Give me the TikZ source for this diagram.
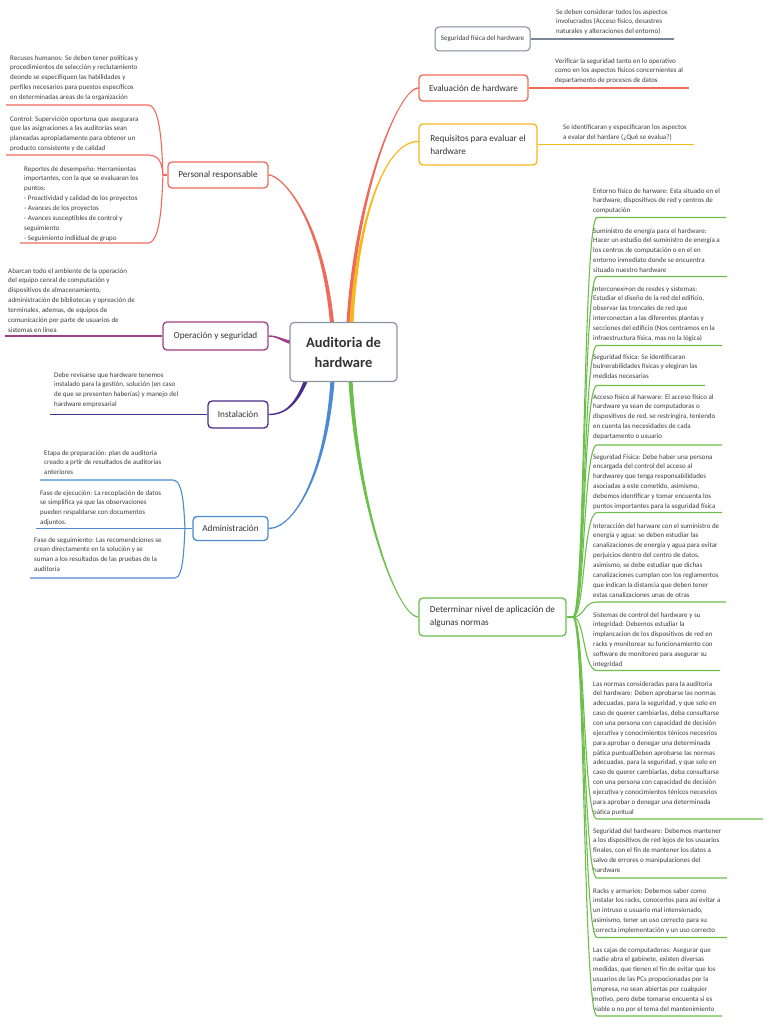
\documentclass[tikz,border=0pt]{standalone}
\usepackage{fontspec}
\setmainfont{Carlito}
\usetikzlibrary{calc,backgrounds}
\definecolor{cred}{HTML}{F06A5C}
\definecolor{corange}{HTML}{F6B81C}
\definecolor{cpurple}{HTML}{A04088}
\definecolor{cindigo}{HTML}{4A2C8C}
\definecolor{cblue}{HTML}{4C8BD3}
\definecolor{cgreen}{HTML}{6BBF4A}
\definecolor{cgray}{HTML}{7D8896}
\definecolor{cbox}{HTML}{8C96A0}
\definecolor{ltext}{HTML}{3C3C3C}
\definecolor{ttext}{HTML}{333333}
\newcommand\lfnt{\fontsize{7}{9.85}\selectfont}
\newcommand\tfnt{\fontsize{9.2}{13}\selectfont}
\newcommand\tconn[5]{%
 \fill[#5] ($(#1)!2.1pt!90:(#2)$) .. controls ($(#2)!1.6pt!-90:(#1)$) and ($(#3)!0.7pt!90:(#4)$) .. ($(#4)!0.7pt!-90:(#3)$) -- ($(#4)!0.7pt!90:(#3)$) .. controls ($(#3)!0.7pt!-90:(#4)$) and ($(#2)!1.6pt!90:(#1)$) .. ($(#1)!2.1pt!-90:(#2)$) -- cycle;}
\begin{document}
\begin{tikzpicture}[x=1pt,y=-1pt,
 leaf/.style={anchor=north west, inner sep=0pt, align=left, font=\lfnt, text=ltext, yshift=-2pt},
 topic/.style={draw, rounded corners=4pt, line width=1.3pt, fill=white, font=\tfnt, text=ttext, inner sep=0pt},
 uline/.style={line width=1.1pt}]
\useasboundingbox (0,0) rectangle (768,1024);

% ---------- central and main topics
\node[draw=cbox, rounded corners=4pt, line width=1.2pt, fill=white, minimum width=107pt, minimum height=59pt, inner sep=0pt, align=center, font=\fontsize{14.5}{20}\selectfont\bfseries, text=ttext] (ctr) at (343.5,352) {Auditoria de\\hardware};
\node[topic, draw=cred, minimum width=109pt, minimum height=26pt] (ev) at (473.5,88) {Evaluación de hardware};
\node[topic, draw=corange, minimum width=118pt, minimum height=41pt, align=left] (rq) at (478,144.5) {Requisitos para evaluar el\\hardware};
\node[topic, draw=cgray, line width=1pt, minimum width=95pt, minimum height=24pt, font=\fontsize{7}{8}\selectfont, text=ltext] (sf) at (482.5,39) {Seguridad física del hardware};
\node[topic, draw=cred, minimum width=100pt, minimum height=26pt] (pr) at (218,175) {Personal responsable};
\node[topic, draw=cpurple, minimum width=105pt, minimum height=28pt] (op) at (215.5,336) {Operación y seguridad};
\node[topic, draw=cindigo, minimum width=60pt, minimum height=27pt] (in) at (238,414.5) {Instalación};
\node[topic, draw=cblue, minimum width=75pt, minimum height=24pt] (ad) at (230.5,528.5) {Administración};
\node[topic, draw=cgreen, minimum width=147pt, minimum height=38pt, align=left] (de) at (492.5,617) {Determinar nivel de aplicación de\\algunas normas};

% ---------- central connectors
\begin{scope}[on background layer]
\coordinate (sEv) at (348,335); \coordinate (cEv1) at (353,200); \coordinate (cEv2) at (398,88);
\tconn{sEv}{cEv1}{cEv2}{ev.west}{cred}
\coordinate (sRq) at (351,335); \coordinate (cRq1) at (354,240); \coordinate (cRq2) at (380,141);
\coordinate (eRq) at ($(rq.west)+(0,-3)$);
\tconn{sRq}{cRq1}{cRq2}{eRq}{corange}
\coordinate (sPr) at (333,335); \coordinate (cPr1) at (325,220); \coordinate (cPr2) at (282,175);
\tconn{sPr}{cPr1}{cPr2}{pr.east}{cred}
\coordinate (sOp) at (296,343); \coordinate (cOp1) at (283,342); \coordinate (cOp2) at (279,336);
\tconn{sOp}{cOp1}{cOp2}{op.east}{cpurple}
\coordinate (sIn) at (309,372); \coordinate (cIn1) at (298,405); \coordinate (cIn2) at (285,414.5);
\tconn{sIn}{cIn1}{cIn2}{in.east}{cindigo}
\coordinate (sAd) at (333,372); \coordinate (cAd1) at (328,470); \coordinate (cAd2) at (295,528.5);
\tconn{sAd}{cAd1}{cAd2}{ad.east}{cblue}
\coordinate (sDe) at (350,372); \coordinate (cDe1) at (357,510); \coordinate (cDe2) at (398,617);
\tconn{sDe}{cDe1}{cDe2}{de.west}{cgreen}
\end{scope}

% ---------- right upper leaves
\node[leaf] (sfl) at (556,7) {Se deben considerar todos los aspectos\\involucrados (Acceso físico, desastres\\naturales y alteraciones del entorno)};
\coordinate (sfe) at (674,39);
\draw[uline, cgray] (sf.east) -- (sfe);
\node[leaf] (evl) at (555,56) {Verificar la seguridad tanto en lo operativo\\como en los aspectos físicos concernientes al\\departamento de procesos de datos};
\coordinate (eve) at (689,88);
\draw[uline, cred] (ev.east) -- (eve);
\node[leaf] (rql) at (563,122.5) {Se identificaran y especificaran los aspectos\\a evalar del hardare (¿Qué se evalua?)};
\coordinate (rqe) at (694,144.5);
\draw[line width=1.6pt, corange] (rq.east) -- (rqe);

% ---------- Personal responsable
\node[leaf] (p1) at (10,53) {Recusos humanos: Se deben tener políticas y\\procedimientos de selección y reclutamiento\\deonde se especifiquen las habilidades y\\perfiles necesarios para puestos específicos\\en determinadas areas de la organización};
\node[leaf] (p2) at (10,114) {Control: Supervición oportuna que asegurara\\que las asignaciones a las auditorias sean\\planeadas apropiadamente para obtener un\\producto consistente y de calidad};
\node[leaf] (p3) at (24,164) {Reportes de desempeño: Herramientas\\importantes, con la que se evaluaran los\\puntos:\\- Proactividad y calidad de los proyectos\\- Avances de los proyectos\\- Avances susceptibles de control y\\seguimiento\\- Seguimiento indiidual de grupo};
\coordinate (jP) at (163,175);
\coordinate (p1a) at (148,105); \coordinate (p1b) at (6,105);
\coordinate (p2a) at (148,155); \coordinate (p2b) at (6,155);
\coordinate (p3a) at (148,243); \coordinate (p3b) at (20,243);
\begin{scope}[uline, cred]
\draw (pr.west) -- (jP);
\draw (jP) .. controls (162,160) and (162,105) .. (p1a) -- (p1b);
\draw (jP) .. controls (162,168) and (162,155) .. (p2a) -- (p2b);
\draw (jP) .. controls (162,190) and (162,243) .. (p3a) -- (p3b);
\end{scope}

% ---------- Operacion y seguridad
\node[leaf] (o1) at (8,266) {Abarcan todo el ambiente de la operación\\del equipo cenral de computación y\\dispositivos de almacenamiento,\\administración de bibliotecas y opreación de\\terminales, ademas, de equipos de\\comunicación por parte de usuarios de\\sistemas en línea};
\coordinate (o1e) at (5,336);
\draw[uline, cpurple] (op.west) -- (o1e);

% ---------- Instalacion
\node[leaf] (i1) at (54,370) {Debe revisarse que hardware tenemos\\instalado para la gestión, solución (en caso\\de que se presenten haberías) y manejo del\\hardware empresarial};
\coordinate (i1e) at (50,414.5);
\draw[line width=1.6pt, cindigo] (in.west) -- (i1e);

% ---------- Administracion
\node[leaf] (a1) at (44,448) {Etapa de preparación: plan de auditoria\\creado a prtir de resultados de auditorias\\anteriores};
\node[leaf] (a2) at (40,488) {Fase de ejecución: La recoplación de datos\\se simplifica ya que las observaciones\\pueden respaldarse con documentos\\adjuntos.};
\node[leaf] (a3) at (34,535) {Fase de seguimiento: Las recomendciones se\\crean directamente en la solución y se\\suman a los resultados de las pruebas de la\\auditoria};
\coordinate (jA) at (185,528.5);
\coordinate (a1a) at (173,480); \coordinate (a1b) at (40,480);
\coordinate (a2b) at (36,528.5);
\coordinate (a3a) at (175,578); \coordinate (a3b) at (30,578);
\begin{scope}[uline, cblue]
\draw (ad.west) -- (a2b);
\draw (jA) .. controls (184,515) and (184,480) .. (a1a) -- (a1b);
\draw (jA) .. controls (184,542) and (184,578) .. (a3a) -- (a3b);
\end{scope}

% ---------- Determinar nivel
\coordinate (jD) at (573,617);
\draw[uline, cgreen] (de.east) -- (jD);
\newcommand\gleaf[5]{%
 \node[leaf] (#1) at (593,#2) {#5};
 \coordinate (#1a) at (597,#3); \coordinate (#1b) at (#4,#3);
 \draw[uline, cgreen] (jD) .. controls (585,617) and (583,#3) .. (#1a) -- (#1b);}
\gleaf{g1}{186}{217.5}{726}{Entorno físico de harware: Esta situado en el\\hardware, dispositivos de red y centros de\\computación}
\gleaf{g2}{226}{276.5}{727}{Suministro de energía para el hardware:\\Hacer un estudio del suministro de energía a\\los centros de computación o en el en\\entorno inmediato donde se encuentra\\situado nuestro hardware}
\gleaf{g3}{284}{345.5}{722}{Interconexi+on de resdes y sistemas:\\Estudiar el diseño de la red del edificio,\\observar las troncales de red que\\interconectan a las diferentes plantas y\\secciones del edificio (Nos centramos en la\\infraestructura física, mas no la lógica)}
\gleaf{g4}{352}{385.5}{705}{Seguridad física: Se identificaran\\bulnerabilidades físicas y elegiran las\\medidas necesarias}
\gleaf{g5}{392}{445}{722}{Acceso físico al harware: El acceso físico al\\hardware ya sean de computadoras o\\dispositivos de red, se restringira, teniendo\\en cuenta las necesidades de cada\\departamento o usuario}
\gleaf{g6}{452}{512.5}{722}{Seguridad Física: Debe haber una persona\\encargada del control del acceso al\\hardwarey que tenga responsabilidades\\asociadas a este cometido, asimismo,\\debemos identificar y tomar encuenta los\\puntos importantes para la seguridad física}
\gleaf{g7}{521}{602}{726}{Interacción del harware con el suministro de\\energía y agua: se deben estudiar las\\canalizaciones de energía y agua para evitar\\perjuicios dentro del centro de datos,\\asimismo, se debe estudiar que dichas\\canalizaciones cumplan con los reglamentos\\que indican la distancia que deben tener\\estas canalizaciones unas de otras}
\gleaf{g8}{610}{670.5}{720}{Sistemas de control del hardware y su\\integridad: Debemos estudiar la\\implancacion de los dispositivos de red en\\racks y monitorear su funcionamiento con\\software de monitoreo para asegurar su\\integridad}
\gleaf{g9}{679}{819}{763}{Las normas consideradas para la auditoria\\del hardware: Deben aprobarse las normas\\adecuadas, para la seguridad, y que solo en\\caso de querer cambiarlas, deba consultarse\\con una persona con capacidad de decisión\\ejecutiva y conocimientos ténicos necesrios\\para aprobar o denegar una determinada\\pática puntualDeben aprobarse las normas\\adecuadas, para la seguridad, y que solo en\\caso de querer cambiarlas, deba consultarse\\con una persona con capacidad de decisión\\ejecutiva y conocimientos ténicos necesrios\\para aprobar o denegar una determinada\\pática puntual}
\gleaf{g10}{826}{878}{727}{Seguridad del hardware: Debemos mantener\\a los dispositivos de red lejos de los usuarios\\finales, con el fin de mantener los datos a\\salvo de errores o manipulaciones del\\hardware}
\gleaf{g11}{886}{937.5}{727}{Racks y armarios: Debemos saber como\\instalar los racks, conocerlos para así evitar a\\un intruso o usuario mal intensionado,\\asimismo, tener un uso correcto para su\\correcta implementación y un uso correcto}
\gleaf{g12}{945}{1016}{722}{Las cajas de computadoras: Asegurar que\\nadie abra el gabinete, existen diversas\\medidas, que tienen el fin de evitar que los\\usuarios de las PCs propocionadas por la\\empresa, no sean abiertas por cualquier\\motivo, pero debe tomarse encuenta si es\\viable o no por el tema del mantenimiento}
\end{tikzpicture}
\end{document}
